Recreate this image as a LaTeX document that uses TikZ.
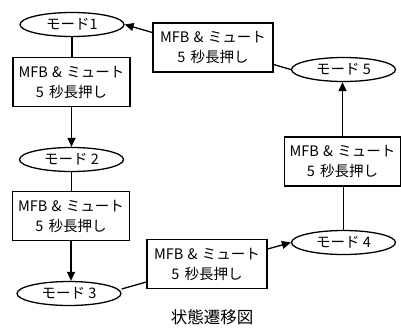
\documentclass[tikz,border=0pt]{standalone}
\usepackage{fontspec}
\setmainfont{Noto Sans CJK JP}
\usetikzlibrary{arrows.meta,shapes.geometric}
\newcommand{\mfbtext}{MFB\hspace{0.3em}\&\hspace{0.3em}ミュート\\5\hspace{0.15em} 秒長押し}
\begin{document}
\begin{tikzpicture}[x=1pt,y=-1pt,
 mode/.style={draw,ellipse,line width=1.3pt,minimum width=104pt,minimum height=24pt,inner sep=0pt,font=\fontsize{14.5}{16}\selectfont},
 act/.style={draw,rectangle,line width=1.3pt,minimum width=117pt,minimum height=49pt,inner sep=0pt,align=center,font=\fontsize{14.5}{20}\selectfont},
 conn/.style={line width=1.3pt},
 arr/.style={conn,-{Triangle[length=9pt,width=8pt]}}]
\useasboundingbox (0,0) rectangle (401,327);
\node[mode] (m1) at (72,24.5) {モード1};
\node[act] (b1) at (71.5,82) {\mfbtext};
\node[mode] (m2) at (71.5,159.5) {モード 2};
\node[act] (b2) at (71,216) {\mfbtext};
\node[mode] (m3) at (69,293.5) {モード 3};
\node[act,minimum width=120pt] (b3) at (207,264) {\mfbtext};
\node[mode] (m4) at (343.5,242.5) {モード 4};
\node[act,minimum width=116pt] (b4) at (342.5,161.5) {\mfbtext};
\node[mode] (m5) at (343.5,69.5) {モード 5};
\node[act,minimum width=120pt] (b5) at (213,47.5) {\mfbtext};
\node[font=\fontsize{16.5}{18}\selectfont] (cap) at (212,317) {状態遷移図};
\draw[conn] (m1.south) -- (m1.south |- b1.north);
\draw[arr] (b1.south) -- (b1.south |- m2.north);
\draw[conn] (m2.south) -- (m2.south |- b2.north);
\draw[arr] (b2.south) -- (b2.south |- m3.north);
\draw[conn] ([yshift=4.5pt]m3.east) -- ([yshift=-18pt]b3.west);
\draw[arr] ([yshift=15pt]b3.east) -- (m4.west);
\draw[conn] (m4.north) -- (m4.north |- b4.south);
\draw[arr] (b4.north) -- (b4.north |- m5.south);
\draw[conn] ([yshift=-17pt]b5.east) -- (m5.west);
\draw[arr] ([yshift=15pt]b5.west) -- (m1.east);
\end{tikzpicture}
\end{document}
